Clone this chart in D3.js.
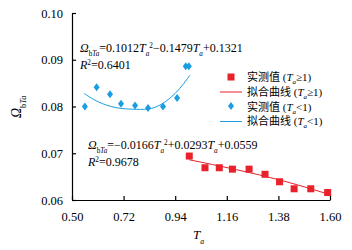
<!DOCTYPE html>
<html>
<head>
<meta charset="utf-8">
<script src="https://cdn.jsdelivr.net/npm/d3@7"></script>
<style>
  body { margin: 0; background: #fff; }
  text { font-family: "Liberation Serif", "Times New Roman", serif; fill: #000; }
</style>
</head>
<body>
<script>
width = 352
height = 250

// measured points, Ta >= 1 (red squares)
hiT = [1.00, 1.067, 1.128, 1.184, 1.255, 1.323, 1.385, 1.447, 1.518, 1.590]
hiQ = [0.0694, 0.0669, 0.0669, 0.0666, 0.0666, 0.0655, 0.0639, 0.0624, 0.0624, 0.0616]
// fitted curve, Ta >= 1
hiFitT = [1.00, 1.20, 1.40, 1.59]
hiFitQ = [0.0686, 0.0665, 0.0641, 0.0613]

// measured points, Ta < 1 (blue diamonds)
loT = [0.555, 0.605, 0.662, 0.709, 0.769, 0.824, 0.888, 0.948, 0.985, 0.998]
loQ = [0.0800, 0.0841, 0.0826, 0.0806, 0.0802, 0.0797, 0.0800, 0.0818, 0.0886, 0.0886]
// fitted curve, Ta < 1
loFitT = [0.551, 0.612, 0.683, 0.776, 0.840, 0.897, 0.953, 1.003]
loFitQ = [0.0828, 0.0810, 0.0798, 0.0794, 0.0796, 0.0810, 0.0835, 0.0867]

xTicks = [0.50, 0.72, 0.94, 1.16, 1.38, 1.60]
yTicks = [0.06, 0.07, 0.08, 0.09, 0.10]

red = '#e8212b'
blue = '#1a9de2'

svg = d3.select('body')
    .append('svg')
    .attr('width', width)
    .attr('height', height)

var xScale = d3.scaleLinear()
    .domain([0.50, 1.60])
    .range([72, 330])

var yScale = d3.scaleLinear()
    .domain([0.06, 0.10])
    .range([200, 13])

// axes
svg.append('g')
    .attr('transform', 'translate(0,200)')
    .call(d3.axisBottom(xScale)
        .tickValues(xTicks)
        .tickFormat(d3.format('.2f'))
        .tickSizeInner(-4)
        .tickSizeOuter(0)
        .tickPadding(12))

svg.append('g')
    .attr('transform', 'translate(72,0)')
    .call(d3.axisLeft(yScale)
        .tickValues(yTicks)
        .tickFormat(d3.format('.2f'))
        .tickSizeInner(-4)
        .tickSizeOuter(0)
        .tickPadding(9))

svg.selectAll('.domain, .tick line')
    .attr('stroke', '#000')
    .attr('stroke-width', 1.2)
svg.selectAll('.tick text')
    .style('font-family', '"Liberation Serif", "Times New Roman", serif')
    .style('font-size', '12.5px')
    .attr('fill', '#000')

// fitted curves
var line = d3.line()
    .x(d => xScale(d[0]))
    .y(d => yScale(d[1]))

svg.append('path')
    .datum(d3.zip(hiFitT, hiFitQ))
    .attr('d', line.curve(d3.curveMonotoneX))
    .attr('fill', 'none')
    .attr('stroke', red)
    .attr('stroke-width', 1)

svg.append('path')
    .datum(d3.zip(loFitT, loFitQ))
    .attr('d', line.curve(d3.curveCatmullRom))
    .attr('fill', 'none')
    .attr('stroke', blue)
    .attr('stroke-width', 1)

// points
svg.selectAll('rect.hi')
    .data(d3.zip(hiT, hiQ))
    .enter()
    .append('rect')
    .attr('class', 'hi')
    .attr('x', d => xScale(d[0]) - 3.5)
    .attr('y', d => yScale(d[1]) - 3.5)
    .attr('width', 7)
    .attr('height', 7)
    .style('fill', red)

var diamond = 'M0,-4L3,0L0,4L-3,0Z'
svg.selectAll('path.lo')
    .data(d3.zip(loT, loQ))
    .enter()
    .append('path')
    .attr('class', 'lo')
    .attr('d', diamond)
    .attr('transform', d => 'translate(' + xScale(d[0]) + ',' + yScale(d[1]) + ')')
    .style('fill', blue)

// rich text helper: parts of [text, italic, shift] (shift: 0 normal, -1 sub, 1 sup)
function rich(g, x, y, parts, size) {
    var t = g.append('text')
        .attr('x', x)
        .attr('y', y)
        .style('font-size', size + 'px')
    var level = 0
    parts.forEach(function(p) {
        var s = p[2] || 0
        var dy = (level - s) * size * 0.35
        level = s
        var ts = t.append('tspan')
            .text(p[0])
            .attr('dy', dy)
        if (p[1]) ts.style('font-style', 'italic')
        if (s != 0) ts.style('font-size', (size * 0.6) + 'px')
    })
    return t
}

var omega = [['Ω', 1], ['b', 0, -1], ['T', 1, -1], ['a', 1, -1]]

// equation labels
rich(svg, 80, 52, omega.concat([
    ['=0.1012', 0], ['T', 1], ['a', 1, -1], ['2', 0, 1], ['−0.1479', 0], ['T', 1], ['a', 1, -1], ['+0.1321', 0]
]), 12)
rich(svg, 80, 69, [['R', 1], ['2', 0, 1], ['=0.6401', 0]], 12)

rich(svg, 88, 149, omega.concat([
    ['=−0.0166', 0], ['T', 1], ['a', 1, -1], ['2', 0, 1], ['+0.0293', 0], ['T', 1], ['a', 1, -1], ['+0.0559', 0]
]), 12)
rich(svg, 88, 166, [['R', 1], ['2', 0, 1], ['=0.9678', 0]], 12)

// axis titles
rich(svg, 193, 239, [['T', 1], ['a', 1, -1]], 13)

var yt = svg.append('g')
    .attr('transform', 'translate(21,118) rotate(-90)')
rich(yt, 0, 0, omega, 14)

// legend
legend = svg.append('g')
    .attr('transform', 'translate(231,77)')

legend.append('rect')
    .attr('x', -3.5).attr('y', -3.5)
    .attr('width', 7).attr('height', 7)
    .style('fill', red)
legend.append('line')
    .attr('x1', -11).attr('x2', 11)
    .attr('y1', 15).attr('y2', 15)
    .attr('stroke', red)
legend.append('path')
    .attr('d', diamond)
    .attr('transform', 'translate(0,29)')
    .style('fill', blue)
legend.append('line')
    .attr('x1', -11).attr('x2', 11)
    .attr('y1', 44.5).attr('y2', 44.5)
    .attr('stroke', blue)

var legendItems = [
    ['实测值', '≥1)'],
    ['拟合曲线', '≥1)'],
    ['实测值', '<1)'],
    ['拟合曲线', '<1)']
]
legendItems.forEach(function(item, i) {
    var t = legend.append('text')
        .attr('x', 16)
        .attr('y', i * 14.8 + 4)
        .style('font-size', '11px')
    t.append('tspan').text(item[0])
        .style('font-family', '"Noto Sans CJK SC", sans-serif')
    t.append('tspan').text(' (')
    t.append('tspan').text('T').style('font-style', 'italic')
    t.append('tspan').text('a').style('font-style', 'italic')
        .style('font-size', '7px').attr('dy', 3)
    t.append('tspan').text(item[1]).attr('dy', -3)
})
</script>
</body>
</html>
